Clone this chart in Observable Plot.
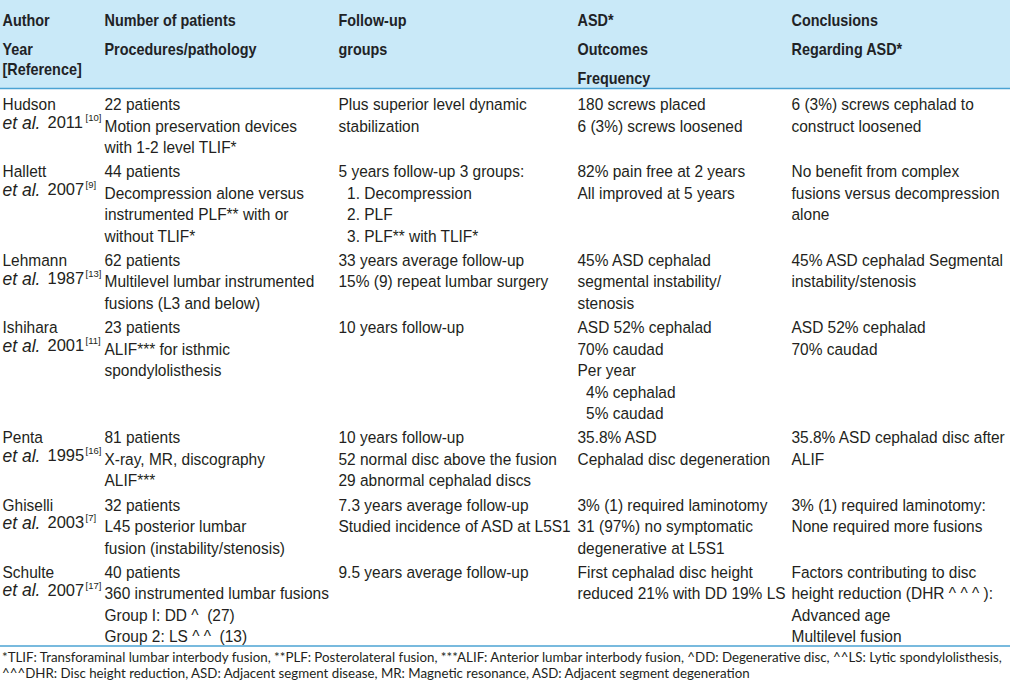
<!DOCTYPE html>
<html>
<head>
<meta charset="utf-8">
<script src="https://cdn.jsdelivr.net/npm/d3@7"></script>
<script src="https://cdn.jsdelivr.net/npm/@observablehq/plot@0.6"></script>
<style>
  html, body { margin: 0; padding: 0; background: #ffffff; }
  #chart svg { display: block; }
  #fn {
    font-family: Lato, "Open Sans", sans-serif;
    font-size: 13.3px;
    line-height: 15.5px;
    color: #231f20;
    padding-left: 2px;
    width: 1008px;
    white-space: nowrap;
  }
</style>
</head>
<body>
<div id="chart"></div>
<div id="fn"></div>
<script>
// ---------------- data ----------------
const headers = [
  ["Author", "Year\n[Reference]"],
  ["Number of patients", "Procedures/pathology"],
  ["Follow-up", "groups"],
  ["ASD*", "Outcomes", "Frequency"],
  ["Conclusions", "Regarding ASD*"]
];
const authors = ["Hudson", "Hallett", "Lehmann", "Ishihara", "Penta", "Ghiselli", "Schulte"];
const years = ["2011", "2007", "1987", "2001", "1995", "2003", "2007"];
const refs = ["[10]", "[9]", "[13]", "[11]", "[16]", "[7]", "[17]"];
const patients = [22, 44, 62, 23, 81, 32, 40];
const procedures = [
  ["Motion preservation devices", "with 1-2 level TLIF*"],
  ["Decompression alone versus", "instrumented PLF** with or", "without TLIF*"],
  ["Multilevel lumbar instrumented", "fusions (L3 and below)"],
  ["ALIF*** for isthmic", "spondylolisthesis"],
  ["X-ray, MR, discography", "ALIF***"],
  ["L45 posterior lumbar", "fusion (instability/stenosis)"],
  ["360 instrumented lumbar fusions", "Group I: DD ^  (27)", "Group 2: LS ^ ^  (13)"]
];
const followUp = [
  ["Plus superior level dynamic", "stabilization"],
  ["5 years follow-up 3 groups:", "  1. Decompression", "  2. PLF", "  3. PLF** with TLIF*"],
  ["33 years average follow-up", "15% (9) repeat lumbar surgery"],
  ["10 years follow-up"],
  ["10 years follow-up", "52 normal disc above the fusion", "29 abnormal cephalad discs"],
  ["7.3 years average follow-up", "Studied incidence of ASD at L5S1"],
  ["9.5 years average follow-up"]
];
const outcomes = [
  ["180 screws placed", "6 (3%) screws loosened"],
  ["82% pain free at 2 years", "All improved at 5 years"],
  ["45% ASD cephalad", "segmental instability/", "stenosis"],
  ["ASD 52% cephalad", "70% caudad", "Per year", "  4% cephalad", "  5% caudad"],
  ["35.8% ASD", "Cephalad disc degeneration"],
  ["3% (1) required laminotomy", "31 (97%) no symptomatic", "degenerative at L5S1"],
  ["First cephalad disc height", "reduced 21% with DD 19% LS"]
];
const conclusions = [
  ["6 (3%) screws cephalad to", "construct loosened"],
  ["No benefit from complex", "fusions versus decompression", "alone"],
  ["45% ASD cephalad Segmental", "instability/stenosis"],
  ["ASD 52% cephalad", "70% caudad"],
  ["35.8% ASD cephalad disc after", "ALIF"],
  ["3% (1) required laminotomy:", "None required more fusions"],
  ["Factors contributing to disc", "height reduction (DHR ^ ^ ^ ):", "Advanced age", "Multilevel fusion"]
];
const footnotes = [
  "*TLIF: Transforaminal lumbar interbody fusion, **PLF: Posterolateral fusion, ***ALIF: Anterior lumbar interbody fusion, ^DD: Degenerative disc, ^^LS: Lytic spondylolisthesis,",
  "^^^DHR: Disc height reduction, ASD: Adjacent segment disease, MR: Magnetic resonance, ASD: Adjacent segment degeneration"
];

// ---------------- layout ----------------
const W = 1010, H = 650;
const LINE = 21.5;          // px per body line
const FIRST = 94.3;         // px of first body line top
const rowGap = 0.125;       // extra (in lines) between rows
const headerStart = -3.874; // header first paragraph (lines)
const headerPara = 1.358;   // header paragraph spacing (lines)
const FS = 17;              // body font size
const HFS = 16;             // header font size
const SQUEEZE = 0.91;       // horizontal condensing of body face
const HSQUEEZE = 0.9;       // horizontal condensing of header face
const nb = s => s.replace(/ {2}/g, "\u00a0\u00a0");

const cells = [], etal = [];
let cursor = 0;
authors.forEach((a, i) => {
  const c1 = [patients[i] + " patients", ...procedures[i]];
  const cols = [[a], c1, followUp[i], outcomes[i], conclusions[i]];
  const n = Math.max(2, ...cols.map(c => c.length));
  cols.forEach((c, j) => cells.push({col: j, y: cursor, text: c.map(nb).join("\n")}));
  etal.push({col: 0, y: cursor + 1, year: years[i], ref: refs[i]});
  cursor += n + rowGap;
});
const tableEnd = cursor - rowGap - 0.11;
const headerLine = -0.293;

const headCells = [];
headers.forEach((h, j) => h.forEach((t, p) => headCells.push({col: j, y: headerStart + p * headerPara, text: t})));

const yDomain = [-FIRST / LINE, (H - FIRST) / LINE];

const FONT = "'Liberation Sans', Arial, Helvetica, sans-serif";
const common = {x: "col", y: "y", textAnchor: "start", lineAnchor: "top", fontFamily: FONT};

const chart = Plot.plot({
  width: W,
  height: H,
  margin: 0,
  x: {type: "linear", domain: [0, 1, 2, 3, 4], range: [2, 104, 338, 577, 791], axis: null},
  y: {domain: yDomain, range: [0, H], axis: null},
  style: {background: "#ffffff", overflow: "visible"},
  marks: [
    Plot.rect([0], {y1: () => yDomain[0], y2: () => headerLine, fill: "#c9e9f8"}),
    Plot.ruleY([headerLine, tableEnd], {stroke: "#4ba3d3", strokeWidth: 1.6}),
    Plot.text(headCells, {...common, text: "text", fontSize: HFS, fontWeight: "bold", fill: "#1f2326", lineHeight: 20 / HFS}),
    Plot.text(cells, {...common, text: "text", fontSize: FS, fill: "#231f20", lineHeight: LINE / FS}),
    Plot.text(etal, {...common, text: () => "et al.", fontSize: 17.5, fontStyle: "italic", fill: "#231f20"}),
    Plot.text(etal, {...common, text: d => d.year, fontSize: 16.5, fill: "#231f20", dx: 45}),
    Plot.text(etal, {...common, text: d => d.ref, fontSize: 9.5, fill: "#231f20", dx: 83, dy: -2})
  ]
});
// condense header and body faces horizontally around each text's own anchor
const groups = chart.querySelectorAll("g[aria-label='text']");
[[groups[0], HSQUEEZE], [groups[1], SQUEEZE]].forEach(([g, s]) => {
  if (!g) return;
  g.querySelectorAll("text").forEach(t => {
    const tr = t.getAttribute("transform") || "";
    t.setAttribute("transform", tr + ` scale(${s},1)`);
  });
});
document.getElementById("chart").appendChild(chart);
document.getElementById("fn").innerHTML = footnotes.join("<br>");
</script>
</body>
</html>
